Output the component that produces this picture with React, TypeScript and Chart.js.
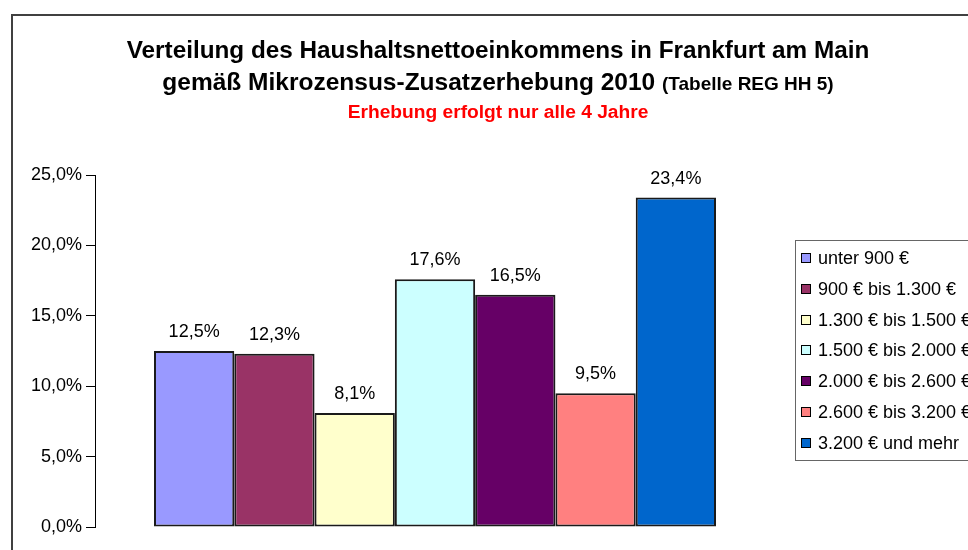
import React, { useEffect, useRef } from "react";
import { Chart, registerables } from "chart.js";

Chart.register(...registerables);

const categories = [""];
const seriesLabels = [
  "unter 900 €",
  "900 € bis 1.300 €",
  "1.300 € bis 1.500 €",
  "1.500 € bis 2.000 €",
  "2.000 € bis 2.600 €",
  "2.600 € bis 3.200 €",
  "3.200 € und mehr",
];
const seriesValues = [12.5, 12.3, 8.1, 17.6, 16.5, 9.5, 23.4];
const seriesColors = ["#9999FF", "#993366", "#FFFFCC", "#CCFFFF", "#660066", "#FF8080", "#0066CC"];
const titleLine1 = "Verteilung des Haushaltsnettoeinkommens in Frankfurt am Main";
const titleLine2a = "gemäß Mikrozensus-Zusatzerhebung 2010 ";
const titleLine2b = "(Tabelle REG HH 5)";
const subtitle = "Erhebung erfolgt nur alle 4 Jahre";

const FONT = "'Liberation Sans', Arial, sans-serif";
const fmt = (v: number) => v.toFixed(1).replace(".", ",") + "%";

const decorPlugin = {
  id: "decor",
  beforeDraw(chart: any) {
    const ctx = chart.ctx;
    ctx.save();
    ctx.fillStyle = "#fff";
    ctx.fillRect(0, 0, chart.width, chart.height);
    ctx.strokeStyle = "#404040";
    ctx.lineWidth = 2;
    ctx.strokeRect(12, 15, 2000, 2000);
    ctx.restore();
  },
  afterDraw(chart: any) {
    const ctx = chart.ctx;
    ctx.save();
    const cx = 498;
    ctx.textBaseline = "alphabetic";
    ctx.fillStyle = "#000";
    ctx.textAlign = "center";
    ctx.font = `bold 24.3px ${FONT}`;
    ctx.fillText(titleLine1, cx, 58);
    // line 2 mixed sizes
    ctx.textAlign = "left";
    ctx.font = `bold 24.5px ${FONT}`;
    const wa = ctx.measureText(titleLine2a).width;
    ctx.font = `bold 19px ${FONT}`;
    const wb = ctx.measureText(titleLine2b).width;
    const start = cx - (wa + wb) / 2;
    ctx.font = `bold 24.5px ${FONT}`;
    ctx.fillText(titleLine2a, start, 90);
    ctx.font = `bold 19px ${FONT}`;
    ctx.fillText(titleLine2b, start + wa, 90);
    ctx.textAlign = "center";
    ctx.fillStyle = "#FF0000";
    ctx.font = `bold 19.2px ${FONT}`;
    ctx.fillText(subtitle, cx, 118);

    // value labels
    ctx.fillStyle = "#000";
    ctx.font = `18px ${FONT}`;
    chart.data.datasets.forEach((ds: any, i: number) => {
      const meta = chart.getDatasetMeta(i);
      const bar = meta.data[0];
      if (!bar) return;
      ctx.fillText(fmt(ds.data[0]), bar.x, bar.y - 14);
    });

    // legend
    const lx = 795.5, ly = 240.5;
    ctx.fillStyle = "#fff";
    ctx.fillRect(lx, ly, 400, 220);
    ctx.strokeStyle = "#666";
    ctx.lineWidth = 1;
    ctx.strokeRect(lx, ly, 400, 220);
    ctx.textAlign = "left";
    ctx.textBaseline = "middle";
    ctx.font = `18px ${FONT}`;
    chart.data.datasets.forEach((ds: any, i: number) => {
      const y = 258 + i * 30.8;
      ctx.fillStyle = ds.backgroundColor;
      ctx.fillRect(801.5, Math.round(y) - 4.5, 9, 9);
      ctx.strokeStyle = "#000";
      ctx.strokeRect(801.5, Math.round(y) - 4.5, 9, 9);
      ctx.fillStyle = "#000";
      ctx.fillText(ds.label, 818, y + 1);
    });
    ctx.restore();
  },
};

export default function App() {
  const ref = useRef<HTMLCanvasElement | null>(null);
  useEffect(() => {
    document.body.style.margin = "0";
    document.documentElement.style.overflow = "hidden";
    const canvas = ref.current!;
    const chart = new Chart(canvas, {
      type: "bar",
      data: {
        labels: categories,
        datasets: seriesLabels.map((label, i) => ({
          label,
          data: [seriesValues[i]],
          backgroundColor: seriesColors[i],
          borderColor: "#1a1a1a",
          borderWidth: 2,
          borderSkipped: false,
        })),
      },
      options: {
        animation: false,
        responsive: false,
        devicePixelRatio: 1,
        layout: { padding: { left: 0, top: 175, right: 193, bottom: 23 } },
        datasets: { bar: { categoryPercentage: 0.8265, barPercentage: 1 } },
        plugins: {
          legend: { display: false },
          title: { display: false },
          tooltip: { enabled: false },
        },
        scales: {
          x: { display: false },
          y: {
            min: 0,
            max: 25,
            afterFit: (scale: any) => {
              scale.width = 95;
            },
            ticks: {
              stepSize: 5,
              padding: 4,
              color: "#000",
              font: { family: FONT, size: 18 },
              callback: (v: any) => fmt(Number(v)),
            },
            grid: {
              drawOnChartArea: false,
              drawTicks: true,
              tickLength: 9,
              color: "#000",
            },
            border: { display: true, color: "#000", width: 1 },
          },
        },
      },
      plugins: [decorPlugin],
    });
    return () => chart.destroy();
  }, []);
  return <canvas ref={ref} width={968} height={550} style={{ display: "block", width: 968, height: 550 }} />;
}
